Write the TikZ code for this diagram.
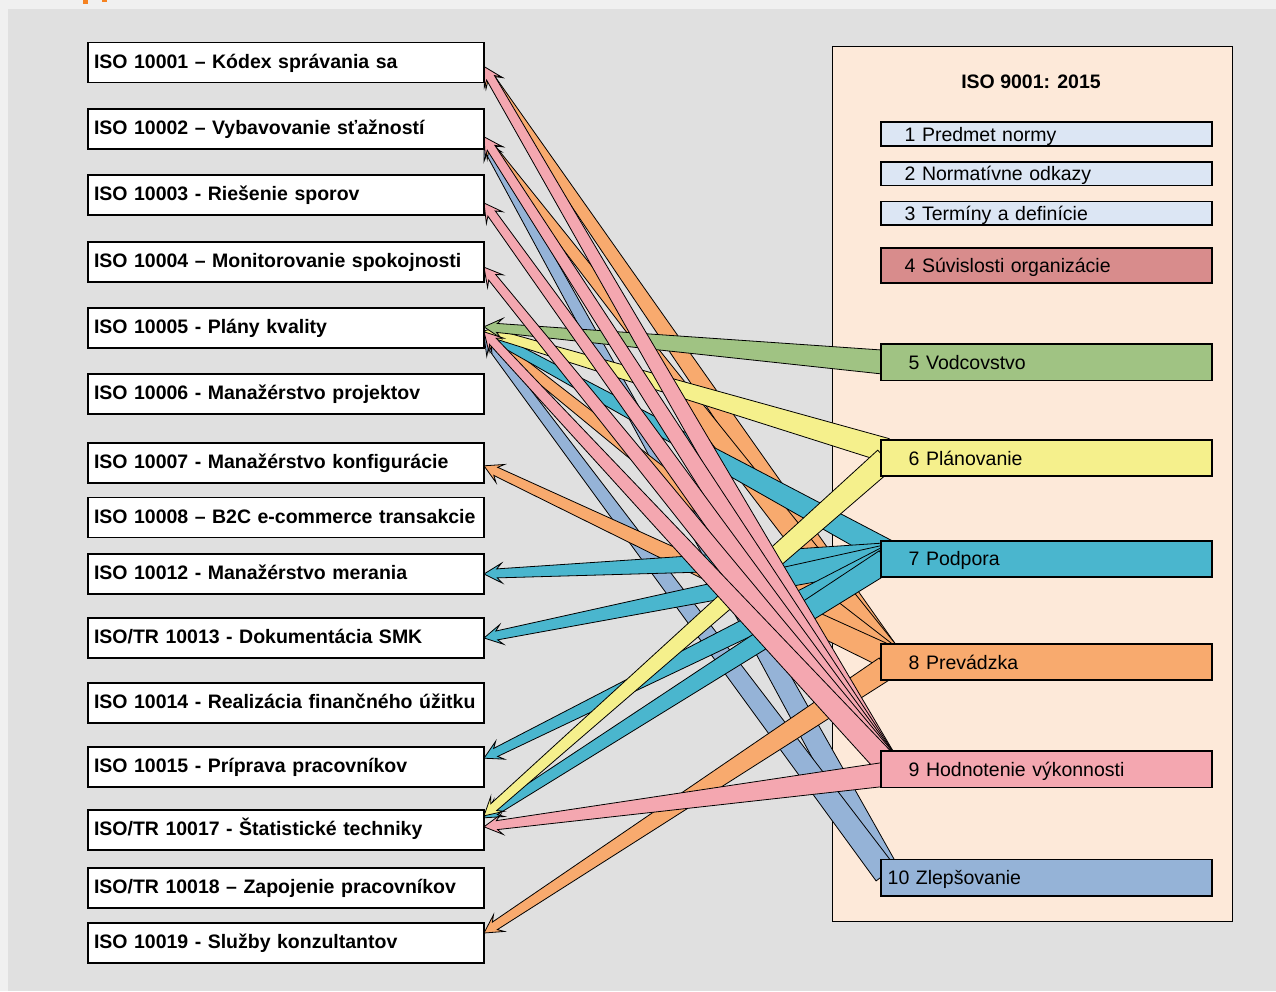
\documentclass[tikz,border=0pt]{standalone}
\usepackage{fontspec}
\setmainfont{Liberation Sans}
\usetikzlibrary{positioning}
\usetikzlibrary{calc}

\definecolor{framegray}{HTML}{F0F0F0}
\definecolor{backgray}{HTML}{E0E0E0}
\definecolor{peach}{HTML}{FDE9D9}
\definecolor{paleblue}{HTML}{DCE6F4}
\definecolor{rosered}{HTML}{D88C8C}
\definecolor{leadgreen}{HTML}{A0C383}
\definecolor{planyellow}{HTML}{F5F08C}
\definecolor{supportblue}{HTML}{4AB6CE}
\definecolor{operorange}{HTML}{F8AA6E}
\definecolor{evalpink}{HTML}{F4A7B0}
\definecolor{improveblue}{HTML}{95B3D7}
\definecolor{logoorange}{HTML}{F58220}

\pgfdeclarelayer{backdrop}
\pgfdeclarelayer{flows}
\pgfsetlayers{backdrop,flows,main}

\begin{document}
\begin{tikzpicture}[
x=1pt, y=-1pt,
font=\fontsize{19.5}{22}\selectfont,
iso/.style={rectangle, draw=black, line width=1.8pt, outer sep=0pt, fill=white, text width=384pt, inner xsep=6pt, inner ysep=0pt, minimum height=40pt, text height=15pt, text depth=4pt, align=left, font=\fontsize{19.5}{22}\selectfont\bfseries},
clause/.style={rectangle, draw=black, line width=1.8pt, outer sep=0pt, text width=275pt, inner xsep=28pt, inner ysep=0pt, minimum height=36.5pt, text height=15pt, text depth=1pt, align=left},
band/.style={draw=black, line width=0.8pt, fill=#1, to path={
  -- ($(\tikztostart)!12pt!90:(\tikztotarget)$)
  -- ($(\tikztotarget)!13pt!(\tikztostart)!4.5pt!90:(\tikztotarget)$)
  -- ($(\tikztotarget)!18pt!(\tikztostart)!10pt!90:(\tikztotarget)$)
  -- (\tikztotarget)
  -- ($(\tikztotarget)!18pt!(\tikztostart)!10pt!-90:(\tikztotarget)$)
  -- ($(\tikztotarget)!13pt!(\tikztostart)!4.5pt!-90:(\tikztotarget)$)
  -- ($(\tikztostart)!12pt!-90:(\tikztotarget)$)
  -- cycle}},
]

% backdrop
\begin{pgfonlayer}{backdrop}
\useasboundingbox (0,0) rectangle (1276,991);
\fill[framegray] (0,0) rectangle (1276,991);
\fill[backgray] (8,9) rectangle (1276,991);
\fill[logoorange] (83,0) rectangle (88,3.5);
\fill[logoorange] (102,0) rectangle (106.5,2);
\node[rectangle, draw=black, line width=1.4pt, fill=peach, minimum width=400pt, minimum height=875pt] (panel) at (1032.5,484) {};
\end{pgfonlayer}

% ISO 9001 panel
\node[font=\fontsize{19.5}{22}\selectfont\bfseries] (title) at (1031,82) {ISO 9001: 2015};

\node[clause, fill=paleblue, minimum height=23.5pt, text width=283pt, inner xsep=24pt] (c1) at (1046.2,134) {1 Predmet normy};
\node[clause, fill=paleblue, minimum height=23.5pt, text width=283pt, inner xsep=24pt] (c2) [below=16.3pt of c1] {2 Normatívne odkazy};
\node[clause, fill=paleblue, minimum height=23.5pt, text width=283pt, inner xsep=24pt] (c3) [below=16pt of c2] {3 Termíny a definície};
\node[clause, fill=rosered, minimum height=35pt, text width=283pt, inner xsep=24pt] (c4) [below=23pt of c3] {4 Súvislosti organizácie};
\node[clause, fill=leadgreen] (c5) [below=61pt of c4] {5 Vodcovstvo};
\node[clause, fill=planyellow] (c6) [below=59.3pt of c5] {6 Plánovanie};
\node[clause, fill=supportblue] (c7) [below=64.3pt of c6] {7 Podpora};
\node[clause, fill=operorange] (c8) [below=66.6pt of c7] {8 Prevádzka};
\node[clause, fill=evalpink] (c9) [below=70.7pt of c8] {9 Hodnotenie výkonnosti};
\node[clause, fill=improveblue, text width=317pt, inner xsep=7pt] (c10) [below=72pt of c9] {10 Zlepšovanie};

% supporting standards
\node[iso] (i1) at (286,62.5) {ISO 10001 – Kódex správania sa};
\node[iso] (i2) [below=26.3pt of i1] {ISO 10002 – Vybavovanie sťažností};
\node[iso] (i3) [below=26.2pt of i2] {ISO 10003 - Riešenie sporov};
\node[iso] (i4) [below=27.2pt of i3] {ISO 10004 – Monitorovanie spokojnosti};
\node[iso] (i5) [below=25.6pt of i4] {ISO 10005 - Plány kvality};
\node[iso] (i6) [below=26.4pt of i5] {ISO 10006 - Manažérstvo projektov};
\node[iso] (i7) [below=28.6pt of i6] {ISO 10007 - Manažérstvo konfigurácie};
\node[iso] (i8) [below=14.7pt of i7] {ISO 10008 – B2C e-commerce transakcie};
\node[iso] (i9) [below=16.5pt of i8] {ISO 10012 - Manažérstvo merania};
\node[iso] (i10) [below=24pt of i9] {ISO/TR 10013 - Dokumentácia SMK};
\node[iso] (i11) [below=24.7pt of i10] {ISO 10014 - Realizácia finančného úžitku};
\node[iso] (i12) [below=24.5pt of i11] {ISO 10015 - Príprava pracovníkov};
\node[iso] (i13) [below=22.6pt of i12] {ISO/TR 10017 - Štatistické techniky};
\node[iso] (i14) [below=18pt of i13] {ISO/TR 10018 – Zapojenie pracovníkov};
\node[iso] (i15) [below=15.2pt of i14] {ISO 10019 - Služby konzultantov};

\begin{pgfonlayer}{flows}
% 10 Zlepsovanie
\draw[band=improveblue] ([xshift=5pt, yshift=9pt]c10.west) to ([yshift=-12pt]i2.east);
\draw[band=improveblue] ([xshift=5pt, yshift=4pt]c10.west) to ([yshift=-8pt]i5.east);

% 8 Prevadzka
\draw[band=operorange] ([xshift=5pt, yshift=11pt]c8.west) to ([yshift=-6pt]i1.east);
\draw[band=operorange] ([xshift=5pt, yshift=11pt]c8.west) to ([yshift=-10pt]i2.east);
\draw[band=operorange] ([xshift=5pt, yshift=8pt]c8.west) to ([yshift=-5pt]i5.east);
\draw[band=operorange] ([xshift=5pt, yshift=6pt]c8.west) to ([yshift=-3pt]i7.east);
\draw[band=operorange] ([xshift=5pt, yshift=-6pt]c8.west) to ([yshift=10pt]i15.east);

% 7 Podpora
\draw[band=supportblue] ([xshift=5pt, yshift=8pt]c7.west) to ([yshift=-4pt]i5.east);
\draw[band=supportblue] ([xshift=5pt, yshift=4pt]c7.west) to (i9.east);
\draw[band=supportblue] ([xshift=5pt, yshift=2pt]c7.west) to (i10.east);
\draw[band=supportblue] ([xshift=5pt]c7.west) to ([yshift=9pt]i12.east);
\draw[band=supportblue] ([xshift=5pt, yshift=-2pt]c7.west) to ([yshift=12pt]i13.east);

% 6 Planovanie
\draw[band=planyellow] ([xshift=5pt, yshift=8pt]c6.west) to ([yshift=-3pt]i5.east);
\draw[band=planyellow] ([xshift=5pt, yshift=-1pt]c6.west) to ([yshift=14pt]i13.east);

% 5 Vodcovstvo
\draw[band=leadgreen] ([xshift=5pt]c5.west) to ([yshift=1pt]i5.east);

% 9 Hodnotenie vykonnosti
\draw[band=evalpink] ([xshift=5pt, yshift=7pt]c9.west) to ([yshift=-4pt]i1.east);
\draw[band=evalpink] ([xshift=5pt, yshift=7pt]c9.west) to ([yshift=-8pt]i2.east);
\draw[band=evalpink] ([xshift=5pt, yshift=7pt]c9.west) to ([yshift=-8pt]i3.east);
\draw[band=evalpink] ([xshift=5pt, yshift=7pt]c9.west) to ([yshift=-5pt]i4.east);
\draw[band=evalpink] ([xshift=5pt, yshift=6pt]c9.west) to ([yshift=-4pt]i5.east);
\draw[band=evalpink] ([xshift=5pt, yshift=-5pt]c9.west) to ([yshift=3pt]i13.east);
\end{pgfonlayer}
\end{tikzpicture}
\end{document}
